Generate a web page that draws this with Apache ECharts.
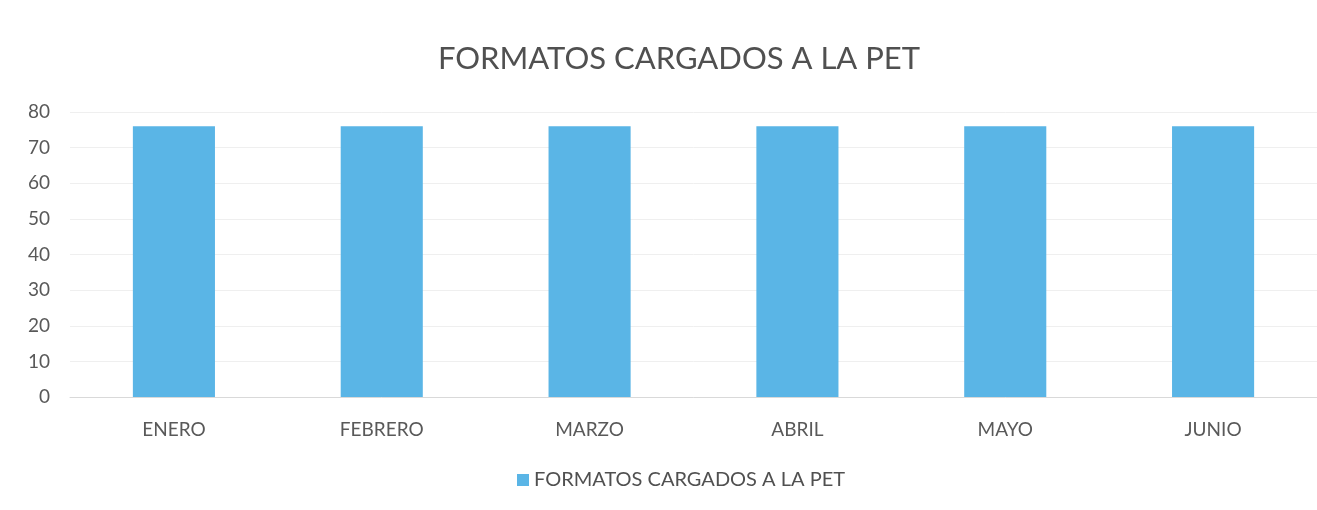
<!DOCTYPE html>
<html>
<head>
<meta charset="utf-8">
<script src="https://cdn.jsdelivr.net/npm/echarts@6/dist/echarts.min.js"></script>
<style>html,body{margin:0;padding:0;background:#fff;}#c{width:1317px;height:510px;}</style>
</head>
<body>
<div id="c"></div>
<script>
const titleText = "FORMATOS CARGADOS A LA PET";
const seriesName = "FORMATOS CARGADOS A LA PET";
const categories = ["ENERO", "FEBRERO", "MARZO", "ABRIL", "MAYO", "JUNIO"];
const values = [76, 76, 76, 76, 76, 76];
const yTicks = [0, 10, 20, 30, 40, 50, 60, 70, 80];

const chart = echarts.init(document.getElementById('c'));
const font = "Lato, 'Open Sans', sans-serif";
chart.setOption({
  animation: false,
  backgroundColor: '#ffffff',
  title: {
    text: titleText,
    left: 674, top: 38, textAlign: 'center',
    textStyle: { fontFamily: font, fontSize: 31, fontWeight: 'normal', color: '#505050' }
  },
  legend: {
    data: [seriesName],
    left: 512, bottom: 15,
    itemWidth: 12, itemHeight: 12, icon: 'rect', itemGap: 6,
    textStyle: { fontFamily: font, fontSize: 20, color: '#505050' }
  },
  grid: { left: 70, right: -1, top: 112, bottom: 113, containLabel: false },
  xAxis: {
    type: 'category', data: categories,
    axisTick: { show: false },
    axisLine: { lineStyle: { color: '#d9d9d9' } },
    axisLabel: { fontFamily: font, fontSize: 19, color: '#595959', margin: 23 }
  },
  yAxis: {
    type: 'value', min: yTicks[0], max: yTicks[yTicks.length - 1], interval: 10,
    axisLine: { show: false }, axisTick: { show: false },
    splitLine: { lineStyle: { color: '#efefef' } },
    axisLabel: { fontFamily: font, fontSize: 19, color: '#595959', margin: 20 }
  },
  series: [{
    name: seriesName, type: 'bar', data: values,
    barWidth: '39.5%',
    itemStyle: { color: '#5ab5e6' }
  }]
});
</script>
</body>
</html>
